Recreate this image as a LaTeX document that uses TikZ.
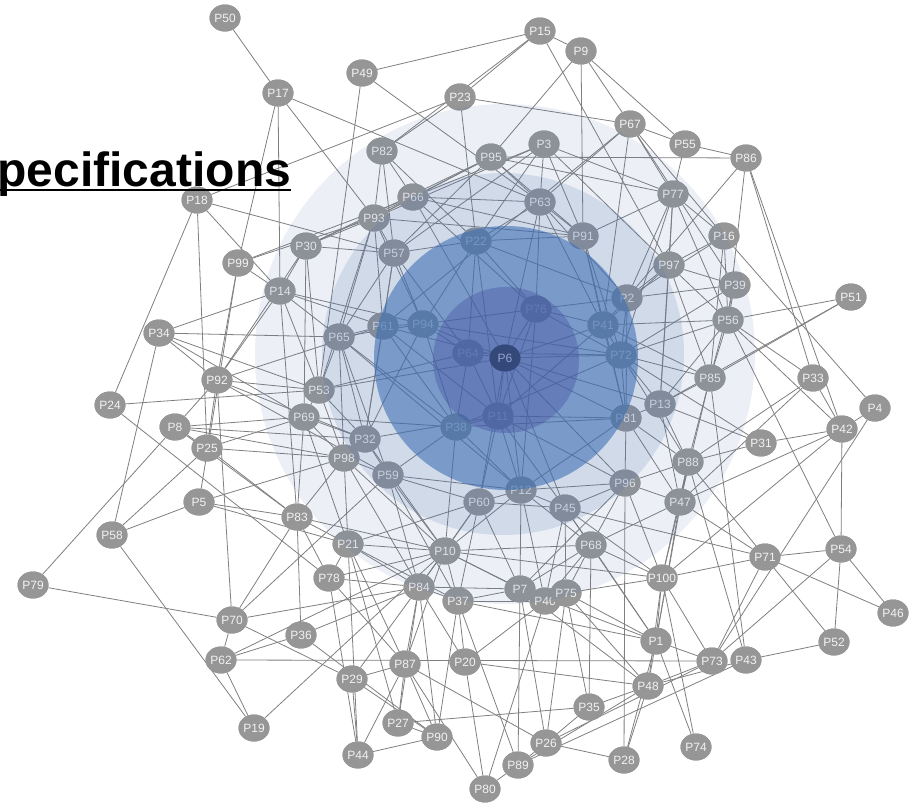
\documentclass[tikz,border=0pt]{standalone}
\usepackage{fontspec}
\setmainfont{Liberation Sans}
\usetikzlibrary{shapes.geometric}
\definecolor{edgec}{RGB}{128,128,128}
\definecolor{nodec}{RGB}{150,150,150}
\definecolor{txtc}{RGB}{242,242,242}
\definecolor{ovA}{RGB}{70,110,170}
\definecolor{ovC}{RGB}{60,110,180}
\definecolor{ovD}{RGB}{70,80,160}
\definecolor{psix}{RGB}{52,72,122}
\definecolor{psixt}{RGB}{150,165,205}
\tikzset{
  edge/.style={draw=edgec, line width=0.8pt},
  pn/.style={ellipse, fill=nodec, draw=none, minimum width=31pt, minimum height=27pt, inner sep=0pt, text=txtc, font=\fontsize{12}{12}\selectfont},
  titlestyle/.style={anchor=base west, inner sep=0pt, font=\fontsize{48}{48}\selectfont\bfseries}
}
\newcommand\PNode[3]{\node[pn] (p#1) at (#2,#3) {\makebox[0pt]{P#1}};}
\begin{document}
\begin{tikzpicture}[x=1pt,y=-1pt]
\useasboundingbox (0,0) rectangle (911,803);
\fill[white] (0,0) rectangle (911,803);
% nodes (positions)
\PNode{1}{656}{641}
\PNode{2}{627}{298}
\PNode{3}{544}{144}
\PNode{4}{875}{408}
\PNode{5}{199}{502}
\PNode{7}{520}{589}
\PNode{8}{175}{427}
\PNode{9}{581}{51}
\PNode{10}{445}{551}
\PNode{11}{498}{416}
\PNode{12}{521}{490}
\PNode{13}{660}{404}
\PNode{14}{280}{291}
\PNode{15}{540}{31}
\PNode{16}{724}{236}
\PNode{17}{278}{93}
\PNode{18}{197}{200}
\PNode{19}{254}{728}
\PNode{20}{465}{662}
\PNode{21}{348}{544}
\PNode{22}{476}{241}
\PNode{23}{460}{97}
\PNode{24}{110}{405}
\PNode{25}{207}{448}
\PNode{26}{546}{743}
\PNode{27}{398}{723}
\PNode{28}{624}{760}
\PNode{29}{352}{679}
\PNode{30}{306}{246}
\PNode{31}{761}{443}
\PNode{32}{365}{439}
\PNode{33}{813}{378}
\PNode{34}{159}{333}
\PNode{35}{589}{707}
\PNode{36}{301}{635}
\PNode{37}{458}{601}
\PNode{38}{456}{427}
\PNode{39}{735}{285}
\PNode{40}{545}{601}
\PNode{41}{603}{325}
\PNode{42}{842}{429}
\PNode{43}{746}{660}
\PNode{44}{358}{755}
\PNode{45}{565}{508}
\PNode{46}{893}{613}
\PNode{47}{680}{502}
\PNode{48}{648}{686}
\PNode{49}{362}{73}
\PNode{50}{225}{18}
\PNode{51}{851}{297}
\PNode{52}{834}{642}
\PNode{53}{319}{390}
\PNode{54}{841}{549}
\PNode{55}{685}{144}
\PNode{56}{728}{320}
\PNode{57}{394}{253}
\PNode{58}{112}{535}
\PNode{59}{388}{475}
\PNode{60}{479}{502}
\PNode{61}{383}{326}
\PNode{62}{221}{660}
\PNode{63}{540}{202}
\PNode{64}{468}{353}
\PNode{65}{339}{337}
\PNode{66}{413}{197}
\PNode{67}{630}{124}
\PNode{68}{591}{545}
\PNode{69}{304}{417}
\PNode{70}{232}{620}
\PNode{71}{765}{557}
\PNode{72}{621}{355}
\PNode{73}{712}{661}
\PNode{74}{696}{747}
\PNode{75}{566}{593}
\PNode{76}{536}{309}
\PNode{77}{673}{194}
\PNode{78}{329}{578}
\PNode{79}{33}{585}
\PNode{80}{485}{789}
\PNode{81}{626}{418}
\PNode{82}{382}{151}
\PNode{83}{297}{517}
\PNode{84}{419}{587}
\PNode{85}{710}{378}
\PNode{86}{746}{158}
\PNode{87}{405}{664}
\PNode{88}{688}{462}
\PNode{89}{518}{765}
\PNode{90}{437}{737}
\PNode{91}{583}{236}
\PNode{92}{217}{380}
\PNode{93}{374}{218}
\PNode{94}{423}{324}
\PNode{95}{491}{157}
\PNode{96}{625}{483}
\PNode{97}{669}{265}
\PNode{98}{344}{458}
\PNode{99}{238}{263}
\PNode{100}{662}{578}
\node[pn, fill=psix, text=psixt] (p6) at (505,358) {\makebox[0pt]{P6}};
% edges
\foreach \a/\b in {50/17,17/99,17/14,17/93,17/63,18/23,18/57,18/14,18/24,18/25,49/15,49/53,49/63,15/9,15/23,15/82,15/97,9/95,9/91,9/67,9/55,23/67,23/22,23/82,67/55,67/63,67/61,67/41,67/77,67/39,67/16,95/86,55/86,55/77,86/2,86/56,86/33,86/42,77/16,16/4,16/97,16/2,16/56,16/85,51/56,51/85,51/13,56/33,56/54,85/43,85/88,97/42,33/42,33/47,33/88,4/42,4/73,42/54,42/31,42/47,42/100,31/88,31/72,31/13,88/71,88/43,47/71,71/54,71/46,71/52,71/100,71/73,71/45,54/46,54/52,54/73,52/43,74/1,74/100,43/48,43/89,73/26,73/48,79/8,79/70,58/19,70/62,92/70,34/58,34/14,34/65,34/53,34/69,34/92,24/53,24/78,92/8,92/25,25/58,5/58,5/83,5/21,5/98,62/73,62/19,62/36,62/10,70/83,70/59,70/84,70/29,36/83,36/84,36/90,78/21,78/10,78/84,78/44,78/87,29/44,29/84,29/87,29/90,21/44,19/10,87/27,87/90,87/84,87/10,87/21,27/90,27/21,27/35,44/90,44/87,96/28,28/48,28/1,26/28,80/87,80/40,80/89,80/20,89/26,89/48,89/7,89/37,26/35,26/75,26/7,26/87,35/48,35/75,35/68,48/1,48/100,20/48,48/7,1/100,1/75,1/7,1/68,1/37,20/37,20/84,20/40}
  \draw[edge] (p\a) -- (p\b);
\foreach \a/\b in {82/93,82/57,82/66,82/22,66/3,66/95,66/63,66/91,66/6,66/76,93/30,93/99,93/57,93/66,93/65,93/61,93/94,93/53,93/91,30/57,30/66,30/14,30/92,30/69,30/53,30/95,99/66,99/92,99/5,95/93,95/63,95/91,95/77,95/57,3/77,3/97,3/91,3/22,3/57,3/93,3/63,63/91,63/22,63/76,63/6,63/41,63/2,91/22,91/77,91/72,91/41,91/81,22/57,22/94,22/64,22/76,22/11,22/2,77/97,77/2,77/72,77/13,77/56,97/2,97/41,97/85,97/39,97/13,39/56,39/2,39/85,39/72,56/85,56/41,56/72,2/41,2/72,2/81}
  \draw[edge] (p\a) -- (p\b);
\foreach \a/\b in {57/61,57/94,57/65,57/64,57/32,14/99,14/92,14/65,14/61,14/94,14/83,14/53,65/61,65/94,65/53,65/32,65/98,65/59,65/38,65/12,53/69,53/32,53/64,53/6,53/92,53/98,69/8,69/32,69/98,69/38,69/21,69/83,8/32,8/83,8/98,8/25,92/32,92/59,92/61,25/98,25/83,25/69,32/98,32/59,32/11,32/61,32/94,32/10,98/59,98/83,98/21,98/10,98/84,59/60,59/12,59/10,59/84,59/37,83/21,83/10,83/78,21/10,21/84,21/37,21/60,61/94,61/6,61/11,61/38,94/64,94/6,94/76,94/38,94/72}
  \draw[edge] (p\a) -- (p\b);
\foreach \a/\b in {64/6,64/11,64/38,64/72,6/76,6/11,6/72,6/41,6/12,6/60,6/81,6/13,6/45,6/96,76/41,76/2,76/11,76/12,76/72,41/72,41/11,41/81,41/85,72/13,72/81,72/85,72/38,72/88,81/13,81/96,81/88,81/47,81/12,81/11,81/38,13/85,13/88,13/47,13/56,96/88,96/47,96/45,96/12,96/68,96/100,96/7,12/60,12/45,12/7,12/10,12/40,12/68,60/10,60/7,60/37,60/84,60/45,45/68,45/75,45/40,45/100,45/1,38/11,38/10,38/59,38/12,11/12,11/60,11/45,11/96,10/84,10/37,10/7,10/68,10/40,10/100,84/37,84/7,84/90,84/27,37/7,37/40,37/90,7/40,7/75,7/68,40/75,40/68,75/68,75/100,75/48,68/100,68/47,88/47,88/100,47/100,47/1,100/73,1/73,85/47,88/1}
  \draw[edge] (p\a) -- (p\b);
% redraw nodes above edges
\foreach \n/\x/\y in {1/656/641,2/627/298,3/544/144,4/875/408,5/199/502,7/520/589,8/175/427,9/581/51,10/445/551,11/498/416,12/521/490,13/660/404,14/280/291,15/540/31,16/724/236,17/278/93,18/197/200,19/254/728,20/465/662,21/348/544,22/476/241,23/460/97,24/110/405,25/207/448,26/546/743,27/398/723,28/624/760,29/352/679,30/306/246,31/761/443,32/365/439,33/813/378,34/159/333,35/589/707,36/301/635,37/458/601,38/456/427,39/735/285,40/545/601,41/603/325,42/842/429,43/746/660,44/358/755,45/565/508,46/893/613,47/680/502,48/648/686,49/362/73,50/225/18}
  \node[pn] (q\n) at (\x,\y) {\makebox[0pt]{P\n}};
\foreach \n/\x/\y in {51/851/297,52/834/642,53/319/390,54/841/549,55/685/144,56/728/320,57/394/253,58/112/535,59/388/475,60/479/502,61/383/326,62/221/660,63/540/202,64/468/353,65/339/337,66/413/197,67/630/124,68/591/545,69/304/417,70/232/620,71/765/557,72/621/355,73/712/661,74/696/747,75/566/593,76/536/309,77/673/194,78/329/578,79/33/585,80/485/789,81/626/418,82/382/151,83/297/517,84/419/587,85/710/378,86/746/158,87/405/664,88/688/462,89/518/765,90/437/737,91/583/236,92/217/380,93/374/218,94/423/324,95/491/157,96/625/483,97/669/265,98/344/458,99/238/263,100/662/578}
  \node[pn] (q\n) at (\x,\y) {\makebox[0pt]{P\n}};
% overlay circles
\fill[ovA, opacity=0.1] (505,354) circle[radius=250pt];
\fill[ovA, opacity=0.17] (503,354) circle[radius=181pt];
\fill[ovC, opacity=0.58] (506,358) circle[radius=132pt];
\fill[ovD, opacity=0.4] (506,360) circle[radius=73pt];
\node[pn, fill=psix, text=psixt] (q6) at (505,358) {\makebox[0pt]{P6}};
% title
\node[titlestyle] (title) at (-2.6,186) {pecifications};
\draw[line width=2.7pt] ([yshift=-4pt]title.base west) -- ([yshift=-4pt]title.base east);
\end{tikzpicture}
\end{document}
